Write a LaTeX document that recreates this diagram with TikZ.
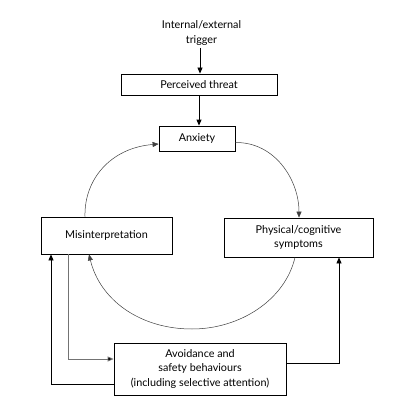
\documentclass[tikz,border=0pt]{standalone}
\usepackage{fontspec}
\setmainfont{Lato}
\usetikzlibrary{arrows.meta,calc}
\begin{document}
\begin{tikzpicture}[x=1pt,y=-1pt,
  box/.style={draw=black,line width=0.8pt,align=center,inner sep=0pt,font=\fontsize{10.8}{14.3}\selectfont},
  lbl/.style={align=center,inner sep=0pt,font=\fontsize{10.8}{15.5}\selectfont},
  arr/.style={line width=0.8pt,-{Triangle[length=6pt,width=5pt]}},
  arc/.style={line width=0.5pt,draw=black!75,-{Triangle[length=6pt,width=5pt]}},
  garr/.style={line width=0.8pt,draw=black!55,-{Triangle[length=6pt,width=5pt,fill=black]}}]
\useasboundingbox[fill=white] (0,0) rectangle (417,417);
\node[lbl] (trig) at (201.5,33) {Internal/external\\trigger};
\node[box,minimum width=156pt,minimum height=21pt] (threat) at (199,84.5) {Perceived threat};
\node[box,minimum width=76pt,minimum height=25pt] (anx) at (197,138.5) {Anxiety};
\node[box,minimum width=131pt,minimum height=37pt] (mis) at (106.5,235.5) {Misinterpretation};
\node[box,minimum width=149pt,minimum height=39pt] (phys) at (298.5,237.5) {Physical/cognitive\\symptoms};
\node[box,minimum width=172pt,minimum height=52pt] (avoid) at (200,369) {Avoidance and\\safety behaviours\\(including selective attention)};
\draw[arr] (trig.south -| 200,0) ++(0,2) coordinate (t1) -- (t1 |- threat.north);
\draw[arr] (threat.south -| 199,0) coordinate (t2) -- (t2 |- anx.north);
\coordinate (a1) at ($(anx.east)+(0,4)$);
\coordinate (p1) at ($(phys.north)+(0.5,0)$);
\draw[arc] (a1) .. controls (275,142) and (299,180) .. (p1);
\coordinate (p2) at ($(phys.south)+(-3.5,0)$);
\coordinate (bot) at (192,329);
\coordinate (m1) at ($(mis.south)+(-17.5,0)$);
\draw[arc] (p2) .. controls (285,300) and (240,329) .. (bot) .. controls (140,329) and (100,300) .. (m1);
\coordinate (m2) at ($(mis.north)+(-21.5,0)$);
\coordinate (a2) at ($(anx.west)+(0,5.5)$);
\draw[arc] (m2) .. controls (84,180) and (110,148) .. (a2);
\draw[garr] ($(mis.south)+(-38.5,0)$) |- ($(avoid.west)+(0,-10)$);
\draw[arr] ($(avoid.west)+(0,15)$) -| ($(mis.south)+(-55.5,0)$);
\draw[arr] ($(avoid.east)+(0,-6)$) -| ($(phys.south)+(40.5,0)$);
\end{tikzpicture}
\end{document}
